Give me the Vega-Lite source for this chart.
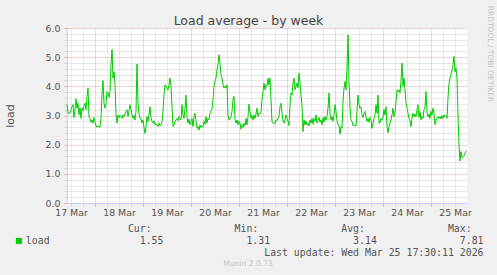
{
  "$schema": "https://vega.github.io/schema/vega-lite/v6.json",
  "width": 400,
  "height": 175,
  "autosize": "none",
  "padding": {"left": 67, "top": 28, "right": 30, "bottom": 72},
  "background": "#f0f0f0",
  "config": {"view": {"fill": "#ffffff", "stroke": null}, "font": "DejaVu Sans"},
  "title": {"text": "Munin 2.0.73", "orient": "bottom", "anchor": "middle", "frame": "group", "dx": -19, "offset": 9, "baseline": "alphabetic", "font": "DejaVu Sans", "fontSize": 7.6, "fontWeight": "normal", "color": "#c4c4c4"},
  "data": {"values": [
    {"t":"2026-03-17T10:00Z","v":3.37},{"t":"2026-03-17T10:30Z","v":3.08},{"t":"2026-03-17T11:00Z","v":3.08},{"t":"2026-03-17T11:30Z","v":3.08},
    {"t":"2026-03-17T12:00Z","v":3.2},{"t":"2026-03-17T12:30Z","v":3.3},{"t":"2026-03-17T13:00Z","v":3.37},{"t":"2026-03-17T13:30Z","v":2.93},
    {"t":"2026-03-17T14:00Z","v":3.2},{"t":"2026-03-17T14:30Z","v":3.57},{"t":"2026-03-17T15:00Z","v":3.25},{"t":"2026-03-17T15:30Z","v":3.42},
    {"t":"2026-03-17T16:00Z","v":3.02},{"t":"2026-03-17T16:30Z","v":3.27},{"t":"2026-03-17T17:00Z","v":2.9},{"t":"2026-03-17T17:30Z","v":3.25},
    {"t":"2026-03-17T18:00Z","v":3.16},{"t":"2026-03-17T18:30Z","v":3.34},{"t":"2026-03-17T19:00Z","v":3.42},{"t":"2026-03-17T19:30Z","v":3.2},
    {"t":"2026-03-17T20:00Z","v":3.65},{"t":"2026-03-17T20:30Z","v":3.94},{"t":"2026-03-17T21:00Z","v":2.93},{"t":"2026-03-17T21:30Z","v":2.9},
    {"t":"2026-03-17T22:00Z","v":2.77},{"t":"2026-03-17T22:30Z","v":2.85},{"t":"2026-03-17T23:00Z","v":2.74},{"t":"2026-03-17T23:30Z","v":2.93},
    {"t":"2026-03-18T00:00Z","v":2.8},{"t":"2026-03-18T00:30Z","v":2.64},{"t":"2026-03-18T01:00Z","v":2.6},{"t":"2026-03-18T01:30Z","v":2.65},
    {"t":"2026-03-18T02:00Z","v":2.6},{"t":"2026-03-18T02:30Z","v":2.6},{"t":"2026-03-18T03:00Z","v":2.9},{"t":"2026-03-18T03:30Z","v":3.7},
    {"t":"2026-03-18T04:00Z","v":4.2},{"t":"2026-03-18T04:30Z","v":3.42},{"t":"2026-03-18T05:00Z","v":3.25},{"t":"2026-03-18T05:30Z","v":3.42},
    {"t":"2026-03-18T06:00Z","v":3.82},{"t":"2026-03-18T06:30Z","v":3.77},{"t":"2026-03-18T07:00Z","v":3.62},{"t":"2026-03-18T07:30Z","v":3.82},
    {"t":"2026-03-18T08:00Z","v":4.74},{"t":"2026-03-18T08:30Z","v":5.26},{"t":"2026-03-18T09:00Z","v":4.28},{"t":"2026-03-18T09:30Z","v":4.5},
    {"t":"2026-03-18T10:00Z","v":4.05},{"t":"2026-03-18T10:30Z","v":3.02},{"t":"2026-03-18T11:00Z","v":2.74},{"t":"2026-03-18T11:30Z","v":3.02},
    {"t":"2026-03-18T12:00Z","v":2.93},{"t":"2026-03-18T12:30Z","v":3.0},{"t":"2026-03-18T13:00Z","v":2.96},{"t":"2026-03-18T13:30Z","v":2.9},
    {"t":"2026-03-18T14:00Z","v":3.02},{"t":"2026-03-18T14:30Z","v":2.96},{"t":"2026-03-18T15:00Z","v":3.05},{"t":"2026-03-18T15:30Z","v":3.14},
    {"t":"2026-03-18T16:00Z","v":3.2},{"t":"2026-03-18T16:30Z","v":2.96},{"t":"2026-03-18T17:00Z","v":3.16},{"t":"2026-03-18T17:30Z","v":3.37},
    {"t":"2026-03-18T18:00Z","v":3.2},{"t":"2026-03-18T18:30Z","v":3.02},{"t":"2026-03-18T19:00Z","v":2.9},{"t":"2026-03-18T19:30Z","v":3.0},
    {"t":"2026-03-18T20:00Z","v":2.85},{"t":"2026-03-18T20:30Z","v":3.14},{"t":"2026-03-18T21:00Z","v":4.76},{"t":"2026-03-18T21:30Z","v":3.42},
    {"t":"2026-03-18T22:00Z","v":3.05},{"t":"2026-03-18T22:30Z","v":2.9},{"t":"2026-03-18T23:00Z","v":2.9},{"t":"2026-03-18T23:30Z","v":2.74},
    {"t":"2026-03-19T00:00Z","v":2.85},{"t":"2026-03-19T00:30Z","v":2.59},{"t":"2026-03-19T01:00Z","v":2.39},{"t":"2026-03-19T01:30Z","v":2.62},
    {"t":"2026-03-19T02:00Z","v":2.96},{"t":"2026-03-19T02:30Z","v":2.8},{"t":"2026-03-19T03:00Z","v":3.02},{"t":"2026-03-19T03:30Z","v":3.3},
    {"t":"2026-03-19T04:00Z","v":2.93},{"t":"2026-03-19T04:30Z","v":2.8},{"t":"2026-03-19T05:00Z","v":2.74},{"t":"2026-03-19T05:30Z","v":2.82},
    {"t":"2026-03-19T06:00Z","v":2.68},{"t":"2026-03-19T06:30Z","v":2.7},{"t":"2026-03-19T07:00Z","v":2.68},{"t":"2026-03-19T07:30Z","v":2.62},
    {"t":"2026-03-19T08:00Z","v":2.74},{"t":"2026-03-19T08:30Z","v":2.65},{"t":"2026-03-19T09:00Z","v":2.68},{"t":"2026-03-19T09:30Z","v":2.8},
    {"t":"2026-03-19T10:00Z","v":3.14},{"t":"2026-03-19T10:30Z","v":3.7},{"t":"2026-03-19T11:00Z","v":4.05},{"t":"2026-03-19T11:30Z","v":4.03},
    {"t":"2026-03-19T12:00Z","v":3.94},{"t":"2026-03-19T12:30Z","v":3.88},{"t":"2026-03-19T13:00Z","v":4.05},{"t":"2026-03-19T13:30Z","v":4.28},
    {"t":"2026-03-19T14:00Z","v":4.0},{"t":"2026-03-19T14:30Z","v":3.3},{"t":"2026-03-19T15:00Z","v":2.62},{"t":"2026-03-19T15:30Z","v":2.68},
    {"t":"2026-03-19T16:00Z","v":2.8},{"t":"2026-03-19T16:30Z","v":2.85},{"t":"2026-03-19T17:00Z","v":2.9},{"t":"2026-03-19T17:30Z","v":2.82},
    {"t":"2026-03-19T18:00Z","v":2.96},{"t":"2026-03-19T18:30Z","v":2.9},{"t":"2026-03-19T19:00Z","v":2.85},{"t":"2026-03-19T19:30Z","v":3.37},
    {"t":"2026-03-19T20:00Z","v":3.02},{"t":"2026-03-19T20:30Z","v":2.9},{"t":"2026-03-19T21:00Z","v":3.25},{"t":"2026-03-19T21:30Z","v":3.7},
    {"t":"2026-03-19T22:00Z","v":2.93},{"t":"2026-03-19T22:30Z","v":2.74},{"t":"2026-03-19T23:00Z","v":2.88},{"t":"2026-03-19T23:30Z","v":2.68},
    {"t":"2026-03-20T00:00Z","v":2.8},{"t":"2026-03-20T00:30Z","v":2.9},{"t":"2026-03-20T01:00Z","v":2.62},{"t":"2026-03-20T01:30Z","v":2.96},
    {"t":"2026-03-20T02:00Z","v":3.08},{"t":"2026-03-20T02:30Z","v":2.8},{"t":"2026-03-20T03:00Z","v":2.56},{"t":"2026-03-20T03:30Z","v":2.62},
    {"t":"2026-03-20T04:00Z","v":2.5},{"t":"2026-03-20T04:30Z","v":2.68},{"t":"2026-03-20T05:00Z","v":2.59},{"t":"2026-03-20T05:30Z","v":2.64},
    {"t":"2026-03-20T06:00Z","v":2.6},{"t":"2026-03-20T06:30Z","v":2.8},{"t":"2026-03-20T07:00Z","v":2.7},{"t":"2026-03-20T07:30Z","v":2.96},
    {"t":"2026-03-20T08:00Z","v":2.74},{"t":"2026-03-20T08:30Z","v":2.9},{"t":"2026-03-20T09:00Z","v":2.85},{"t":"2026-03-20T09:30Z","v":3.08},
    {"t":"2026-03-20T10:00Z","v":3.16},{"t":"2026-03-20T10:30Z","v":3.23},{"t":"2026-03-20T11:00Z","v":3.54},{"t":"2026-03-20T11:30Z","v":4.0},
    {"t":"2026-03-20T12:00Z","v":4.17},{"t":"2026-03-20T12:30Z","v":4.28},{"t":"2026-03-20T13:00Z","v":4.57},{"t":"2026-03-20T13:30Z","v":4.74},
    {"t":"2026-03-20T14:00Z","v":5.08},{"t":"2026-03-20T14:30Z","v":4.8},{"t":"2026-03-20T15:00Z","v":4.4},{"t":"2026-03-20T15:30Z","v":4.28},
    {"t":"2026-03-20T16:00Z","v":4.07},{"t":"2026-03-20T16:30Z","v":3.94},{"t":"2026-03-20T17:00Z","v":4.0},{"t":"2026-03-20T17:30Z","v":3.94},
    {"t":"2026-03-20T18:00Z","v":4.05},{"t":"2026-03-20T18:30Z","v":3.02},{"t":"2026-03-20T19:00Z","v":2.85},{"t":"2026-03-20T19:30Z","v":2.88},
    {"t":"2026-03-20T20:00Z","v":2.96},{"t":"2026-03-20T20:30Z","v":3.14},{"t":"2026-03-20T21:00Z","v":3.54},{"t":"2026-03-20T21:30Z","v":3.65},
    {"t":"2026-03-20T22:00Z","v":2.85},{"t":"2026-03-20T22:30Z","v":2.74},{"t":"2026-03-20T23:00Z","v":2.85},{"t":"2026-03-20T23:30Z","v":2.68},
    {"t":"2026-03-21T00:00Z","v":2.8},{"t":"2026-03-21T00:30Z","v":2.74},{"t":"2026-03-21T01:00Z","v":2.53},{"t":"2026-03-21T01:30Z","v":2.68},
    {"t":"2026-03-21T02:00Z","v":2.59},{"t":"2026-03-21T02:30Z","v":2.74},{"t":"2026-03-21T03:00Z","v":2.65},{"t":"2026-03-21T03:30Z","v":2.9},
    {"t":"2026-03-21T04:00Z","v":2.68},{"t":"2026-03-21T04:30Z","v":2.96},{"t":"2026-03-21T05:00Z","v":3.39},{"t":"2026-03-21T05:30Z","v":3.14},
    {"t":"2026-03-21T06:00Z","v":2.9},{"t":"2026-03-21T06:30Z","v":3.0},{"t":"2026-03-21T07:00Z","v":2.85},{"t":"2026-03-21T07:30Z","v":3.02},
    {"t":"2026-03-21T08:00Z","v":2.9},{"t":"2026-03-21T08:30Z","v":3.05},{"t":"2026-03-21T09:00Z","v":3.25},{"t":"2026-03-21T09:30Z","v":2.96},
    {"t":"2026-03-21T10:00Z","v":3.08},{"t":"2026-03-21T10:30Z","v":3.05},{"t":"2026-03-21T11:00Z","v":3.14},{"t":"2026-03-21T11:30Z","v":3.54},
    {"t":"2026-03-21T12:00Z","v":3.82},{"t":"2026-03-21T12:30Z","v":4.11},{"t":"2026-03-21T13:00Z","v":3.88},{"t":"2026-03-21T13:30Z","v":4.05},
    {"t":"2026-03-21T14:00Z","v":4.0},{"t":"2026-03-21T14:30Z","v":4.28},{"t":"2026-03-21T15:00Z","v":4.05},{"t":"2026-03-21T15:30Z","v":4.28},
    {"t":"2026-03-21T16:00Z","v":3.54},{"t":"2026-03-21T16:30Z","v":2.8},{"t":"2026-03-21T17:00Z","v":2.74},{"t":"2026-03-21T17:30Z","v":2.74},
    {"t":"2026-03-21T18:00Z","v":2.72},{"t":"2026-03-21T18:30Z","v":2.85},{"t":"2026-03-21T19:00Z","v":2.83},{"t":"2026-03-21T19:30Z","v":2.9},
    {"t":"2026-03-21T20:00Z","v":2.96},{"t":"2026-03-21T20:30Z","v":3.3},{"t":"2026-03-21T21:00Z","v":3.42},{"t":"2026-03-21T21:30Z","v":3.08},
    {"t":"2026-03-21T22:00Z","v":2.8},{"t":"2026-03-21T22:30Z","v":2.74},{"t":"2026-03-21T23:00Z","v":2.85},{"t":"2026-03-21T23:30Z","v":3.02},
    {"t":"2026-03-22T00:00Z","v":2.9},{"t":"2026-03-22T00:30Z","v":2.8},{"t":"2026-03-22T01:00Z","v":2.65},{"t":"2026-03-22T01:30Z","v":3.37},
    {"t":"2026-03-22T02:00Z","v":3.77},{"t":"2026-03-22T02:30Z","v":3.7},{"t":"2026-03-22T03:00Z","v":4.11},{"t":"2026-03-22T03:30Z","v":4.28},
    {"t":"2026-03-22T04:00Z","v":3.88},{"t":"2026-03-22T04:30Z","v":4.0},{"t":"2026-03-22T05:00Z","v":4.11},{"t":"2026-03-22T05:30Z","v":3.94},
    {"t":"2026-03-22T06:00Z","v":4.45},{"t":"2026-03-22T06:30Z","v":4.11},{"t":"2026-03-22T07:00Z","v":3.7},{"t":"2026-03-22T07:30Z","v":3.37},
    {"t":"2026-03-22T08:00Z","v":2.45},{"t":"2026-03-22T08:30Z","v":2.85},{"t":"2026-03-22T09:00Z","v":2.68},{"t":"2026-03-22T09:30Z","v":2.8},
    {"t":"2026-03-22T10:00Z","v":2.68},{"t":"2026-03-22T10:30Z","v":2.74},{"t":"2026-03-22T11:00Z","v":2.64},{"t":"2026-03-22T11:30Z","v":2.85},
    {"t":"2026-03-22T12:00Z","v":2.74},{"t":"2026-03-22T12:30Z","v":2.9},{"t":"2026-03-22T13:00Z","v":2.7},{"t":"2026-03-22T13:30Z","v":2.9},
    {"t":"2026-03-22T14:00Z","v":2.8},{"t":"2026-03-22T14:30Z","v":3.02},{"t":"2026-03-22T15:00Z","v":2.74},{"t":"2026-03-22T15:30Z","v":2.82},
    {"t":"2026-03-22T16:00Z","v":2.93},{"t":"2026-03-22T16:30Z","v":2.77},{"t":"2026-03-22T17:00Z","v":2.85},{"t":"2026-03-22T17:30Z","v":2.68},
    {"t":"2026-03-22T18:00Z","v":2.93},{"t":"2026-03-22T18:30Z","v":2.77},{"t":"2026-03-22T19:00Z","v":2.96},{"t":"2026-03-22T19:30Z","v":2.85},
    {"t":"2026-03-22T20:00Z","v":2.96},{"t":"2026-03-22T20:30Z","v":3.25},{"t":"2026-03-22T21:00Z","v":3.77},{"t":"2026-03-22T21:30Z","v":3.08},
    {"t":"2026-03-22T22:00Z","v":2.85},{"t":"2026-03-22T22:30Z","v":2.96},{"t":"2026-03-22T23:00Z","v":2.8},{"t":"2026-03-22T23:30Z","v":3.02},
    {"t":"2026-03-23T00:00Z","v":3.37},{"t":"2026-03-23T00:30Z","v":3.14},{"t":"2026-03-23T01:00Z","v":2.8},{"t":"2026-03-23T01:30Z","v":2.68},
    {"t":"2026-03-23T02:00Z","v":2.68},{"t":"2026-03-23T02:30Z","v":2.36},{"t":"2026-03-23T03:00Z","v":2.62},{"t":"2026-03-23T03:30Z","v":2.56},
    {"t":"2026-03-23T04:00Z","v":3.48},{"t":"2026-03-23T04:30Z","v":3.94},{"t":"2026-03-23T05:00Z","v":4.17},{"t":"2026-03-23T05:30Z","v":3.88},
    {"t":"2026-03-23T06:00Z","v":4.63},{"t":"2026-03-23T06:30Z","v":5.76},{"t":"2026-03-23T07:00Z","v":4.17},{"t":"2026-03-23T07:30Z","v":3.3},
    {"t":"2026-03-23T08:00Z","v":2.85},{"t":"2026-03-23T08:30Z","v":2.8},{"t":"2026-03-23T09:00Z","v":2.65},{"t":"2026-03-23T09:30Z","v":2.68},
    {"t":"2026-03-23T10:00Z","v":2.65},{"t":"2026-03-23T10:30Z","v":2.65},{"t":"2026-03-23T11:00Z","v":3.14},{"t":"2026-03-23T11:30Z","v":3.7},
    {"t":"2026-03-23T12:00Z","v":3.37},{"t":"2026-03-23T12:30Z","v":3.25},{"t":"2026-03-23T13:00Z","v":3.3},{"t":"2026-03-23T13:30Z","v":3.02},
    {"t":"2026-03-23T14:00Z","v":2.93},{"t":"2026-03-23T14:30Z","v":3.08},{"t":"2026-03-23T15:00Z","v":3.14},{"t":"2026-03-23T15:30Z","v":2.93},
    {"t":"2026-03-23T16:00Z","v":2.8},{"t":"2026-03-23T16:30Z","v":2.9},{"t":"2026-03-23T17:00Z","v":2.77},{"t":"2026-03-23T17:30Z","v":2.93},
    {"t":"2026-03-23T18:00Z","v":2.85},{"t":"2026-03-23T18:30Z","v":2.56},{"t":"2026-03-23T19:00Z","v":2.74},{"t":"2026-03-23T19:30Z","v":2.9},
    {"t":"2026-03-23T20:00Z","v":3.02},{"t":"2026-03-23T20:30Z","v":3.37},{"t":"2026-03-23T21:00Z","v":3.08},{"t":"2026-03-23T21:30Z","v":3.7},
    {"t":"2026-03-23T22:00Z","v":2.74},{"t":"2026-03-23T22:30Z","v":2.74},{"t":"2026-03-23T23:00Z","v":2.9},{"t":"2026-03-23T23:30Z","v":2.85},
    {"t":"2026-03-24T00:00Z","v":2.93},{"t":"2026-03-24T00:30Z","v":3.2},{"t":"2026-03-24T01:00Z","v":3.02},{"t":"2026-03-24T01:30Z","v":3.3},
    {"t":"2026-03-24T02:00Z","v":2.62},{"t":"2026-03-24T02:30Z","v":2.41},{"t":"2026-03-24T03:00Z","v":2.62},{"t":"2026-03-24T03:30Z","v":2.74},
    {"t":"2026-03-24T04:00Z","v":2.85},{"t":"2026-03-24T04:30Z","v":3.02},{"t":"2026-03-24T05:00Z","v":3.25},{"t":"2026-03-24T05:30Z","v":2.96},
    {"t":"2026-03-24T06:00Z","v":3.08},{"t":"2026-03-24T06:30Z","v":3.48},{"t":"2026-03-24T07:00Z","v":3.88},{"t":"2026-03-24T07:30Z","v":3.82},
    {"t":"2026-03-24T08:00Z","v":3.88},{"t":"2026-03-24T08:30Z","v":3.77},{"t":"2026-03-24T09:00Z","v":4.2},{"t":"2026-03-24T09:30Z","v":4.8},
    {"t":"2026-03-24T10:00Z","v":4.0},{"t":"2026-03-24T10:30Z","v":4.28},{"t":"2026-03-24T11:00Z","v":3.88},{"t":"2026-03-24T11:30Z","v":3.42},
    {"t":"2026-03-24T12:00Z","v":3.25},{"t":"2026-03-24T12:30Z","v":3.08},{"t":"2026-03-24T13:00Z","v":2.9},{"t":"2026-03-24T13:30Z","v":2.82},
    {"t":"2026-03-24T14:00Z","v":2.62},{"t":"2026-03-24T14:30Z","v":2.9},{"t":"2026-03-24T15:00Z","v":3.08},{"t":"2026-03-24T15:30Z","v":2.96},
    {"t":"2026-03-24T16:00Z","v":3.05},{"t":"2026-03-24T16:30Z","v":2.96},{"t":"2026-03-24T17:00Z","v":3.2},{"t":"2026-03-24T17:30Z","v":3.37},
    {"t":"2026-03-24T18:00Z","v":2.93},{"t":"2026-03-24T18:30Z","v":3.14},{"t":"2026-03-24T19:00Z","v":2.85},{"t":"2026-03-24T19:30Z","v":2.96},
    {"t":"2026-03-24T20:00Z","v":2.9},{"t":"2026-03-24T20:30Z","v":3.2},{"t":"2026-03-24T21:00Z","v":3.3},{"t":"2026-03-24T21:30Z","v":3.82},
    {"t":"2026-03-24T22:00Z","v":3.08},{"t":"2026-03-24T22:30Z","v":2.96},{"t":"2026-03-24T23:00Z","v":3.05},{"t":"2026-03-24T23:30Z","v":2.9},
    {"t":"2026-03-25T00:00Z","v":3.14},{"t":"2026-03-25T00:30Z","v":3.02},{"t":"2026-03-25T01:00Z","v":3.25},{"t":"2026-03-25T01:30Z","v":3.08},
    {"t":"2026-03-25T02:00Z","v":2.68},{"t":"2026-03-25T02:30Z","v":2.82},{"t":"2026-03-25T03:00Z","v":2.9},{"t":"2026-03-25T03:30Z","v":2.96},
    {"t":"2026-03-25T04:00Z","v":2.9},{"t":"2026-03-25T04:30Z","v":2.96},{"t":"2026-03-25T05:00Z","v":2.88},{"t":"2026-03-25T05:30Z","v":3.0},
    {"t":"2026-03-25T06:00Z","v":2.9},{"t":"2026-03-25T06:30Z","v":3.02},{"t":"2026-03-25T07:00Z","v":2.96},{"t":"2026-03-25T07:30Z","v":3.0},
    {"t":"2026-03-25T08:00Z","v":2.9},{"t":"2026-03-25T08:30Z","v":3.6},{"t":"2026-03-25T09:00Z","v":4.11},{"t":"2026-03-25T09:30Z","v":4.28},
    {"t":"2026-03-25T10:00Z","v":4.4},{"t":"2026-03-25T10:30Z","v":4.57},{"t":"2026-03-25T11:00Z","v":4.74},{"t":"2026-03-25T11:30Z","v":5.03},
    {"t":"2026-03-25T12:00Z","v":4.5},{"t":"2026-03-25T12:30Z","v":4.63},{"t":"2026-03-25T13:00Z","v":4.28},{"t":"2026-03-25T13:30Z","v":3.02},
    {"t":"2026-03-25T14:00Z","v":2.0},{"t":"2026-03-25T14:30Z","v":1.44},{"t":"2026-03-25T15:00Z","v":1.76},{"t":"2026-03-25T15:30Z","v":1.55},
    {"t":"2026-03-25T16:00Z","v":1.59},{"t":"2026-03-25T16:30Z","v":1.62},{"t":"2026-03-25T17:00Z","v":1.7},{"t":"2026-03-25T17:30Z","v":1.78}
  ]},
  "resolve": {"axis": {"x": "independent", "y": "independent"}},
  "layer": [
    {
      "mark": {"type": "line", "strokeWidth": 1},
      "encoding": {
        "x": {
          "field": "t", "type": "temporal",
          "scale": {"type": "utc", "domain": [{"year": 2026, "month": 3, "date": 17, "hours": 10, "utc": true}, {"year": 2026, "month": 3, "date": 25, "hours": 18, "utc": true}]},
          "axis": {
            "orient": "bottom",
            "values": [
              {"year": 2026, "month": 3, "date": 17, "hours": 12, "utc": true}, {"year": 2026, "month": 3, "date": 17, "hours": 18, "utc": true},
              {"year": 2026, "month": 3, "date": 18, "hours": 0, "utc": true}, {"year": 2026, "month": 3, "date": 18, "hours": 6, "utc": true},
              {"year": 2026, "month": 3, "date": 18, "hours": 12, "utc": true}, {"year": 2026, "month": 3, "date": 18, "hours": 18, "utc": true},
              {"year": 2026, "month": 3, "date": 19, "hours": 0, "utc": true}, {"year": 2026, "month": 3, "date": 19, "hours": 6, "utc": true},
              {"year": 2026, "month": 3, "date": 19, "hours": 12, "utc": true}, {"year": 2026, "month": 3, "date": 19, "hours": 18, "utc": true},
              {"year": 2026, "month": 3, "date": 20, "hours": 0, "utc": true}, {"year": 2026, "month": 3, "date": 20, "hours": 6, "utc": true},
              {"year": 2026, "month": 3, "date": 20, "hours": 12, "utc": true}, {"year": 2026, "month": 3, "date": 20, "hours": 18, "utc": true},
              {"year": 2026, "month": 3, "date": 21, "hours": 0, "utc": true}, {"year": 2026, "month": 3, "date": 21, "hours": 6, "utc": true},
              {"year": 2026, "month": 3, "date": 21, "hours": 12, "utc": true}, {"year": 2026, "month": 3, "date": 21, "hours": 18, "utc": true},
              {"year": 2026, "month": 3, "date": 22, "hours": 0, "utc": true}, {"year": 2026, "month": 3, "date": 22, "hours": 6, "utc": true},
              {"year": 2026, "month": 3, "date": 22, "hours": 12, "utc": true}, {"year": 2026, "month": 3, "date": 22, "hours": 18, "utc": true},
              {"year": 2026, "month": 3, "date": 23, "hours": 0, "utc": true}, {"year": 2026, "month": 3, "date": 23, "hours": 6, "utc": true},
              {"year": 2026, "month": 3, "date": 23, "hours": 12, "utc": true}, {"year": 2026, "month": 3, "date": 23, "hours": 18, "utc": true},
              {"year": 2026, "month": 3, "date": 24, "hours": 0, "utc": true}, {"year": 2026, "month": 3, "date": 24, "hours": 6, "utc": true},
              {"year": 2026, "month": 3, "date": 24, "hours": 12, "utc": true}, {"year": 2026, "month": 3, "date": 24, "hours": 18, "utc": true},
              {"year": 2026, "month": 3, "date": 25, "hours": 0, "utc": true}, {"year": 2026, "month": 3, "date": 25, "hours": 6, "utc": true},
              {"year": 2026, "month": 3, "date": 25, "hours": 12, "utc": true}
            ],
            "labelExpr": "utchours(datum.value) == 12 ? utcFormat(datum.value, '%d %b') : ''",
            "labelOverlap": false, "labelFlush": false, "labelBound": false,
            "labelFont": "DejaVu Sans", "labelFontSize": 9.4, "labelColor": "#555555", "labelPadding": 2,
            "grid": true,
            "gridColor": {"condition": {"test": "utchours(datum.value) == 0", "value": "#e6a6a6"}, "value": "#d2d2d2"},
            "gridDash": [1, 1],
            "tickColor": {"condition": {"test": "utchours(datum.value) == 0", "value": "#e6a6a6"}, "value": "#d2d2d2"},
            "tickSize": 3,
            "domainColor": "#ccccff",
            "title": [
              "Cur:\u00a0\u00a0\u00a0\u00a0\u00a0\u00a0\u00a0\u00a0\u00a0\u00a0\u00a0\u00a0\u00a0\u00a0Min:\u00a0\u00a0\u00a0\u00a0\u00a0\u00a0\u00a0\u00a0\u00a0\u00a0\u00a0\u00a0\u00a0\u00a0Avg:\u00a0\u00a0\u00a0\u00a0\u00a0\u00a0\u00a0\u00a0\u00a0\u00a0\u00a0\u00a0\u00a0\u00a0Max:\u00a0\u00a0\u200b",
              "1.55\u00a0\u00a0\u00a0\u00a0\u00a0\u00a0\u00a0\u00a0\u00a0\u00a0\u00a0\u00a0\u00a0\u00a01.31\u00a0\u00a0\u00a0\u00a0\u00a0\u00a0\u00a0\u00a0\u00a0\u00a0\u00a0\u00a0\u00a0\u00a03.14\u00a0\u00a0\u00a0\u00a0\u00a0\u00a0\u00a0\u00a0\u00a0\u00a0\u00a0\u00a0\u00a0\u00a07.81",
              "Last update: Wed Mar 25 17:30:11 2026"
            ],
            "titleFont": "DejaVu Sans Mono", "titleFontSize": 9.85, "titleFontWeight": "normal", "titleColor": "#555555",
            "titleAlign": "right", "titleAnchor": "end", "titleBaseline": "alphabetic", "titleLineHeight": 12,
            "titleX": 416, "titleY": 28
          }
        },
        "y": {
          "field": "v", "type": "quantitative",
          "scale": {"domain": [0, 6], "nice": false},
          "axis": {
            "values": [0, 0.2, 0.4, 0.6, 0.8, 1, 1.2, 1.4, 1.6, 1.8, 2, 2.2, 2.4, 2.6, 2.8, 3, 3.2, 3.4, 3.6, 3.8, 4, 4.2, 4.4, 4.6, 4.8, 5, 5.2, 5.4, 5.6, 5.8, 6],
            "labelExpr": "datum.value % 1 == 0 ? format(datum.value, '.1f') : ''",
            "labelOverlap": false, "labelFlush": false, "labelBound": false,
            "labelFont": "DejaVu Sans", "labelFontSize": 9.4, "labelColor": "#555555", "labelPadding": 4,
            "grid": true,
            "gridColor": {"condition": {"test": "datum.value % 1 == 0", "value": "#e6a6a6"}, "value": "#d2d2d2"},
            "gridDash": [1, 1],
            "tickColor": {"condition": {"test": "datum.value % 1 == 0", "value": "#e6a6a6"}, "value": "#d2d2d2"},
            "tickSize": 3,
            "domainColor": "#ccccff",
            "title": "load",
            "titleFont": "DejaVu Sans", "titleFontSize": 11, "titleFontWeight": "normal", "titleColor": "#555555",
            "titleAngle": -90, "titleAlign": "center", "titleBaseline": "alphabetic",
            "titleX": -54, "titleY": 87.5
          }
        },
        "color": {
          "datum": "load", "type": "nominal",
          "scale": {"range": ["#00cc00"]},
          "legend": {
            "orient": "none", "legendX": -53, "legendY": 208, "title": null, "padding": 0,
            "symbolType": "square", "symbolSize": 36, "symbolFillColor": "#00cc00", "symbolStrokeWidth": 0, "labelOffset": 2,
            "labelFont": "DejaVu Sans Mono", "labelFontSize": 9.85, "labelColor": "#555555"
          }
        }
      }
    },
    {
      "mark": {"type": "line", "opacity": 0},
      "encoding": {
        "x": {
          "field": "t", "type": "temporal",
          "axis": {
            "orient": "top", "labels": false, "ticks": false, "domain": false, "grid": false,
            "title": "Load average - by week",
            "titleFont": "DejaVu Sans", "titleFontSize": 12.5, "titleFontWeight": "normal", "titleColor": "#444444",
            "titleAlign": "center", "titleBaseline": "alphabetic", "titleX": 181, "titleY": -4
          }
        },
        "y": {
          "field": "v", "type": "quantitative",
          "axis": {
            "orient": "right", "labels": false, "ticks": false, "domain": false, "grid": false,
            "title": "RRDTOOL / TOBI OETIKER",
            "titleFont": "DejaVu Sans", "titleFontSize": 7.5, "titleFontWeight": "normal", "titleColor": "#c4c4c4",
            "titleAngle": 90, "titleAlign": "center", "titleBaseline": "middle", "titleX": 22, "titleY": 25.5
          }
        }
      }
    }
  ]
}
